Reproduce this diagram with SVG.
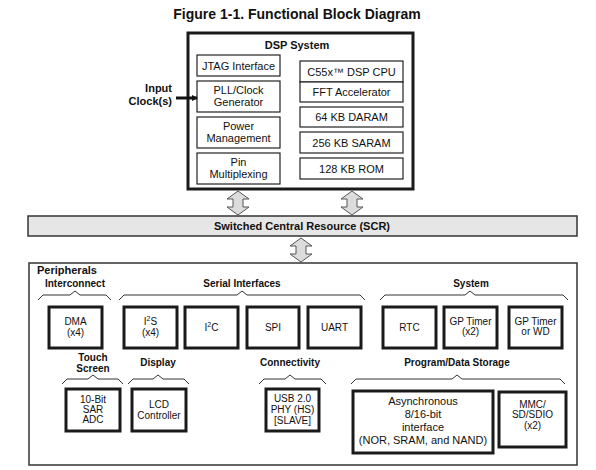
<svg xmlns="http://www.w3.org/2000/svg" width="596" height="470" viewBox="0 0 596 470">
<style>
text{font-family:"Liberation Sans",Arial,sans-serif;fill:#111}
.t{font-size:14px;font-weight:bold}
.h{font-size:11px;font-weight:bold}
.l{font-size:10px;font-weight:bold}
.b{font-size:11px}
.p{font-size:10px}
.thin{fill:#fff;stroke:#222;stroke-width:1.2}
.thick{fill:#fff;stroke:#1a1a1a;stroke-width:3}
.brace{fill:none;stroke:#333;stroke-width:1}
.dar{fill:#dcdcdc;stroke:#555;stroke-width:1}
</style>
<defs>
<marker id="ah" markerWidth="6" markerHeight="6" refX="5" refY="3" orient="auto" markerUnits="userSpaceOnUse"><path d="M0,0 L6,3 L0,6 z" fill="#111"/></marker>
<path id="dbl" d="M0,0 L11,8 L5,8 L5,16 L11,16 L0,24 L-11,16 L-5,16 L-5,8 L-11,8 z"/>
</defs>
<text class="t" x="297" y="19" text-anchor="middle">Figure 1-1. Functional Block Diagram</text>

<g id="dsp">
<rect x="188" y="33" width="225" height="156" class="thick"/>
<text class="h" x="297" y="49" text-anchor="middle">DSP System</text>
</g>
<g id="jtag"><rect x="197" y="55" width="83" height="21" class="thin"/><text class="b" x="238.5" y="70" text-anchor="middle">JTAG Interface</text></g>
<g id="pll"><rect x="197" y="81" width="83" height="31" class="thin"/><text class="b" x="238.5" y="94" text-anchor="middle">PLL/Clock</text><text class="b" x="238.5" y="106" text-anchor="middle">Generator</text></g>
<g id="power"><rect x="197" y="117" width="83" height="31" class="thin"/><text class="b" x="238.5" y="130" text-anchor="middle">Power</text><text class="b" x="238.5" y="142" text-anchor="middle">Management</text></g>
<g id="pin"><rect x="197" y="153" width="83" height="31" class="thin"/><text class="b" x="238.5" y="166" text-anchor="middle">Pin</text><text class="b" x="238.5" y="178" text-anchor="middle">Multiplexing</text></g>
<g id="cpu"><rect x="300" y="61" width="103" height="21" class="thin"/><text class="b" x="351.5" y="76" text-anchor="middle">C55x™ DSP CPU</text></g>
<g id="fft"><rect x="300" y="82" width="103" height="20" class="thin"/><text class="b" x="351.5" y="96" text-anchor="middle">FFT Accelerator</text></g>
<g id="daram"><rect x="300" y="107" width="103" height="20" class="thin"/><text class="b" x="351.5" y="121" text-anchor="middle">64 KB DARAM</text></g>
<g id="saram"><rect x="300" y="132" width="103" height="21" class="thin"/><text class="b" x="351.5" y="147" text-anchor="middle">256 KB SARAM</text></g>
<g id="rom"><rect x="300" y="158" width="103" height="21" class="thin"/><text class="b" x="351.5" y="173" text-anchor="middle">128 KB ROM</text></g>

<g id="clk">
<text class="h" x="172" y="92" text-anchor="end">Input</text>
<text class="h" x="172" y="105" text-anchor="end">Clock(s)</text>
</g>

<g id="scr">
<rect x="28" y="216" width="549" height="20" fill="#e6e6e6" stroke="#333" stroke-width="1.5"/>
<text class="h" x="302" y="230" text-anchor="middle">Switched Central Resource (SCR)</text>
</g>

<g id="periph">
<rect x="29" y="263" width="548" height="202" fill="#fff" stroke="#333" stroke-width="1.5"/>
<text class="h" x="37" y="274">Peripherals</text>
</g>

<g id="labels">
<text class="l" x="75" y="287" text-anchor="middle">Interconnect</text>
<text class="l" x="242" y="287" text-anchor="middle">Serial Interfaces</text>
<text class="l" x="471" y="287" text-anchor="middle">System</text>
<text class="l" x="93" y="361" text-anchor="middle">Touch</text>
<text class="l" x="93" y="372" text-anchor="middle">Screen</text>
<text class="l" x="158" y="366" text-anchor="middle">Display</text>
<text class="l" x="290" y="366" text-anchor="middle">Connectivity</text>
<text class="l" x="457" y="366" text-anchor="middle">Program/Data Storage</text>
</g>

<g id="dma"><rect x="49" y="307" width="53" height="41" class="thick"/><text class="p" x="75.5" y="325" text-anchor="middle">DMA</text><text class="p" x="75.5" y="336" text-anchor="middle">(x4)</text></g>
<g id="i2s"><rect x="124" y="307" width="53" height="41" class="thick"/><text class="p" x="150.5" y="325" text-anchor="middle">I<tspan font-size="7" dy="-4">2</tspan><tspan dy="4">S</tspan></text><text class="p" x="150.5" y="336" text-anchor="middle">(x4)</text></g>
<g id="i2c"><rect x="185" y="307" width="53" height="41" class="thick"/><text class="p" x="211.5" y="331" text-anchor="middle">I<tspan font-size="7" dy="-4">2</tspan><tspan dy="4">C</tspan></text></g>
<g id="spi"><rect x="247" y="307" width="52" height="41" class="thick"/><text class="p" x="273" y="331" text-anchor="middle">SPI</text></g>
<g id="uart"><rect x="308" y="307" width="53" height="41" class="thick"/><text class="p" x="334.5" y="331" text-anchor="middle">UART</text></g>
<g id="rtc"><rect x="383" y="307" width="53" height="41" class="thick"/><text class="p" x="409.5" y="331" text-anchor="middle">RTC</text></g>
<g id="gpt"><rect x="444" y="307" width="53" height="41" class="thick"/><text class="p" x="470.5" y="325" text-anchor="middle">GP Timer</text><text class="p" x="470.5" y="335" text-anchor="middle">(x2)</text></g>
<g id="gpwd"><rect x="509" y="307" width="53" height="41" class="thick"/><text class="p" x="535.5" y="325" text-anchor="middle">GP Timer</text><text class="p" x="535.5" y="335" text-anchor="middle">or WD</text></g>

<g id="adc"><rect x="66" y="389" width="54" height="42" class="thick"/><text class="p" x="93" y="403" text-anchor="middle">10-Bit</text><text class="p" x="93" y="413" text-anchor="middle">SAR</text><text class="p" x="93" y="423" text-anchor="middle">ADC</text></g>
<g id="lcd"><rect x="132" y="389" width="54" height="42" class="thick"/><text class="p" x="159" y="408" text-anchor="middle">LCD</text><text class="p" x="159" y="419" text-anchor="middle">Controller</text></g>
<g id="usb"><rect x="266" y="389" width="53" height="42" class="thick"/><text class="p" x="292.5" y="402" text-anchor="middle">USB 2.0</text><text class="p" x="292.5" y="413" text-anchor="middle">PHY (HS)</text><text class="p" x="292.5" y="424" text-anchor="middle">[SLAVE]</text></g>
<g id="async"><rect x="353" y="391" width="140" height="62" class="thick"/><text class="b" x="423" y="405" text-anchor="middle">Asynchronous</text><text class="b" x="423" y="418" text-anchor="middle">8/16-bit</text><text class="b" x="423" y="431" text-anchor="middle">interface</text><text class="b" x="423" y="444" text-anchor="middle">(NOR, SRAM, and NAND)</text></g>
<g id="mmc"><rect x="499" y="392" width="67" height="55" class="thick"/><text class="p" x="532.5" y="408" text-anchor="middle">MMC/</text><text class="p" x="532.5" y="418" text-anchor="middle">SD/SDIO</text><text class="p" x="532.5" y="429" text-anchor="middle">(x2)</text></g>

<g id="connectors">
<line x1="176" y1="98" x2="197" y2="98" stroke="#111" stroke-width="3" marker-end="url(#ah)"/>
<use href="#dbl" x="238" y="191" class="dar"/>
<use href="#dbl" x="352" y="191" class="dar"/>
<use href="#dbl" x="301" y="238" class="dar"/>
<path class="brace" d="M38,300 L43,295 L70,295 L75,291 L80,295 L106,295 L111,300"/>
<path class="brace" d="M119,300 L124,295 L237,295 L242,291 L247,295 L360,295 L365,300"/>
<path class="brace" d="M380,300 L385,295 L465,295 L470,291 L475,295 L563,295 L568,300"/>
<path class="brace" d="M62,384 L67,379 L88,379 L93,375 L98,379 L118,379 L123,384"/>
<path class="brace" d="M128,384 L133,379 L153,379 L158,375 L163,379 L184,379 L189,384"/>
<path class="brace" d="M259,384 L264,379 L285,379 L290,375 L295,379 L321,379 L326,384"/>
<path class="brace" d="M351,384 L356,379 L452,379 L457,375 L462,379 L560,379 L565,384"/>
</g>
</svg>
